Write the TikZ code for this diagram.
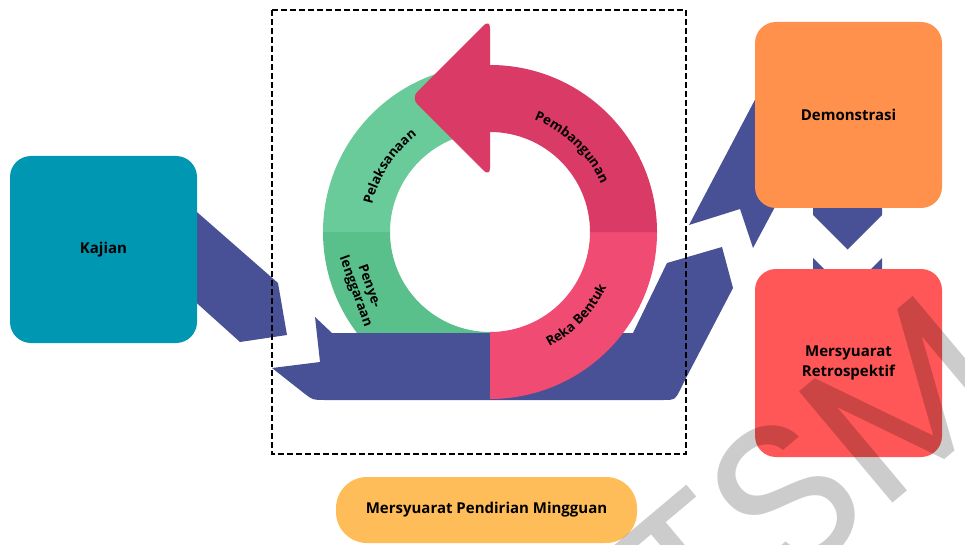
\documentclass[tikz,border=0pt]{standalone}
\usepackage{fontspec}
\setmainfont{Open Sans}
\newfontfamily\markfont{Poppins}
\usetikzlibrary{decorations.text}
\definecolor{kajianteal}{RGB}{0,151,178}
\definecolor{demoorange}{RGB}{255,145,77}
\definecolor{retrored}{RGB}{255,87,87}
\definecolor{standupyellow}{RGB}{255,189,89}
\definecolor{bandblue}{RGB}{72,80,150}
\definecolor{greenlight}{RGB}{106,203,154}
\definecolor{greendark}{RGB}{89,191,139}
\definecolor{pinklight}{RGB}{239,75,115}
\definecolor{pinkdark}{RGB}{218,58,102}
\newcommand{\labelfont}{\fontsize{15}{20.5}\selectfont\bfseries}
\newcommand{\ringfont}{\fontsize{13.2}{14.5}\selectfont\bfseries}
\tikzset{
  stagebox/.style={rounded corners=21pt,minimum width=187pt,minimum height=187pt,
    align=center,inner sep=0pt,font=\labelfont,text=black},
  meetpill/.style={rounded corners=31pt,minimum width=301pt,minimum height=66pt,
    inner sep=0pt,font=\labelfont,fill=standupyellow},
  flowband/.style={fill=bandblue},
  sprintbox/.style={draw=black,line width=1.6pt,dash pattern=on 6pt off 3pt},
  ringtext/.style={decorate,decoration={text along path,text align=center,text={|\ringfont|#1}}},
  watermark/.style={font=\markfont\fontsize{210}{210}\selectfont,text=black,text opacity=0.2}
}
\begin{document}
\begin{tikzpicture}[x=1pt,y=-1pt]
  \useasboundingbox (0,0) rectangle (965,545);
  \coordinate (ring) at (490,232);
  % flow band behind the cycle
  \fill[flowband] (190,206) -- (278,283) -- (287,335) -- (240,342) -- (190,297) -- cycle;
  \fill[greendark,shift={(ring)}] (90:167) arc[start angle=90,end angle=180,radius=167]
    -- (180:100) arc[start angle=180,end angle=90,radius=100] -- cycle;
  \fill[flowband] (272,368) -- (320,362) -- (315,317) -- (332,333) -- (633,333) -- (667,263)
    -- (722,247) -- (733,288) -- (685,380) -- (680,390) .. controls (675,400) .. (663,400)
    -- (325,400) .. controls (313,400) .. (305,394) -- cycle;
  \fill[flowband] (689,225) -- (740,209) -- (753,248) -- (830,104) -- (788,37) -- cycle;
  \fill[flowband] (813,200) -- (813,215) -- (847.5,249.5) -- (882,215) -- (882,200) -- cycle;
  \fill[flowband] (813,258) -- (847.5,292.5) -- (882,258) -- (882,300) -- (813,300) -- cycle;
  % cycle ring
  \fill[pinklight,shift={(ring)}] (0:167) arc[start angle=0,end angle=90,radius=167]
    -- (90:100) arc[start angle=90,end angle=0,radius=100] -- cycle;
  \fill[greenlight,shift={(ring)}] (180:167) arc[start angle=180,end angle=270,radius=167]
    -- (270:100) arc[start angle=270,end angle=180,radius=100] -- cycle;
  \fill[pinkdark,shift={(ring)}] (270:167) arc[start angle=270,end angle=360,radius=167]
    -- (0:100) arc[start angle=360,end angle=270,radius=100] -- cycle;
  \fill[pinkdark,rounded corners=9pt] (490,98) -- (490,19) -- (411,98) -- (490,177) -- cycle;
  \path[ringtext=Pelaksanaan,shift={(ring)}] (178:121) arc[start angle=178,end angle=248,radius=121];
  \path[ringtext=Pembangunan,shift={(ring)}] (278:121) arc[start angle=278,end angle=350,radius=121];
  \path[ringtext=Reka Bentuk,shift={(ring)}] (80:129) arc[start angle=80,end angle=8,radius=129];
  \node[font=\ringfont,align=center,inner sep=0pt,rotate=-70] (penye) at (362,289) {Penye-\\lenggaraan};
  % stages
  \node[stagebox,fill=kajianteal] (kajian) at (103.5,249.5) {Kajian};
  \node[stagebox,fill=demoorange,minimum height=186pt] (demo) at (848.5,115) {Demonstrasi};
  \node[stagebox,fill=retrored,minimum height=188pt] (retro) at (848.5,363) {Mersyuarat\\Retrospektif};
  \node[meetpill] (standup) at (486.5,510) {Mersyuarat Pendirian Mingguan};
  \draw[sprintbox] (272,10) rectangle (686,454);
  \node[watermark,rotate=40] (mark) at (812,475) {TSM};
\end{tikzpicture}
\end{document}
